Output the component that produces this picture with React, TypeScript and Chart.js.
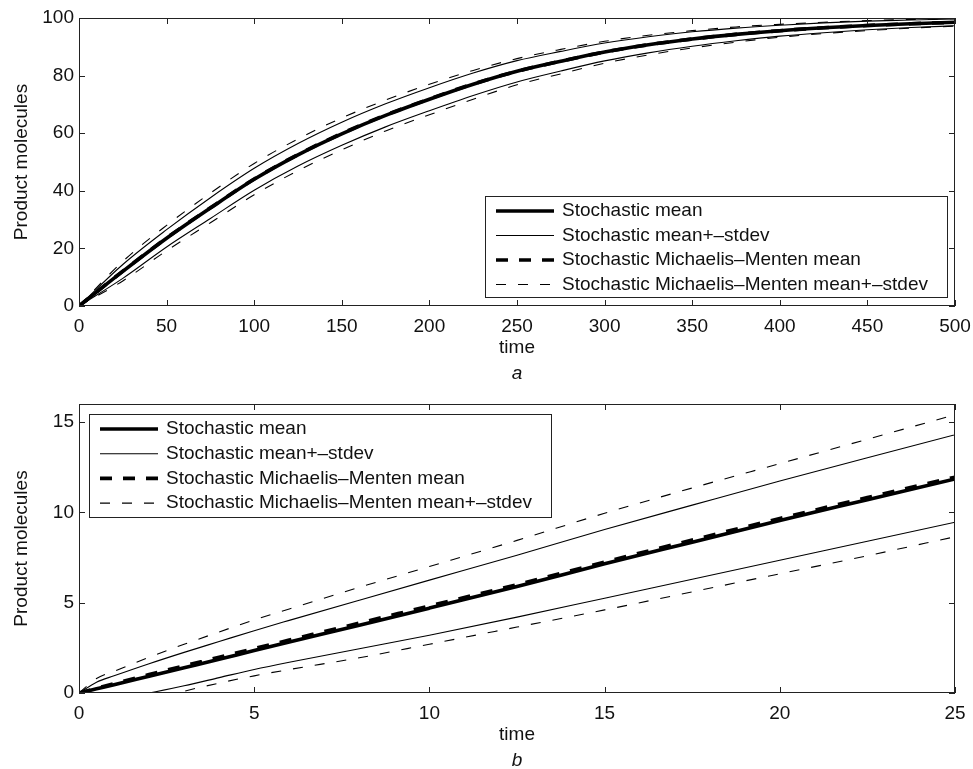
import React, { useEffect, useRef } from 'react';
import { Chart, registerables } from 'chart.js';

Chart.register(...registerables);

const FONT = "'Liberation Sans', Arial, Helvetica, sans-serif";
const INK = '#111';

// ---------- panel a ----------
const timeA = [0, 25, 50, 75, 100, 125, 150, 175, 200, 225, 250, 275, 300, 325, 350, 375, 400, 425, 450, 475, 500];
const meanA = [0, 12, 23.5, 34, 44, 52.5, 59.8, 66.2, 71.8, 77, 81.5, 85, 88.2, 90.7, 92.7, 94.3, 95.6, 96.6, 97.4, 98, 98.5];
const upperA = [0, 14.4, 26.5, 37.6, 47.8, 56.4, 63.8, 70.2, 75.8, 80.9, 85.2, 88.4, 91.3, 93.5, 95.2, 96.5, 97.5, 98.3, 98.9, 99.3, 99.7];
const lowerA = [0, 9.6, 20.5, 30.4, 40.2, 48.6, 55.8, 62.2, 67.8, 73.1, 77.8, 81.6, 85.1, 87.9, 90.2, 92.1, 93.7, 94.9, 95.9, 96.7, 97.3];
const mmMeanA = [0, 12.1, 23.6, 34.1, 44.1, 52.6, 59.9, 66.3, 71.9, 77.1, 81.5, 85, 88.2, 90.7, 92.7, 94.3, 95.6, 96.6, 97.4, 98, 98.5];
const mmUpperA = [0, 15.5, 28, 39.2, 49.5, 58, 65.3, 71.5, 77, 81.8, 85.9, 89.1, 91.9, 94, 95.6, 96.9, 97.8, 98.5, 99.1, 99.5, 99.8];
const mmLowerA = [0, 8.7, 19.2, 28.9, 38.6, 47, 54.2, 60.8, 66.4, 71.8, 76.8, 80.6, 84.3, 87.2, 89.6, 91.6, 93.3, 94.6, 95.6, 96.5, 97.2];
const xTicksA = [0, 50, 100, 150, 200, 250, 300, 350, 400, 450, 500];
const yTicksA = [0, 20, 40, 60, 80, 100];

// ---------- panel b ----------
const timeB = [0, 0.5, 1, 2, 3, 4, 5, 6, 8, 10, 12.5, 15, 17.5, 20, 22.5, 25];
const meanB = [0, 0.23, 0.46, 0.93, 1.4, 1.87, 2.35, 2.82, 3.75, 4.7, 5.9, 7.15, 8.35, 9.55, 10.7, 11.85];
const upperB = [0, 0.6, 0.95, 1.62, 2.25, 2.85, 3.45, 4.02, 5.14, 6.25, 7.63, 9.05, 10.4, 11.74, 13.02, 14.3];
const lowerB = [0, -0.3, -0.3, 0, 0.4, 0.85, 1.3, 1.7, 2.45, 3.2, 4.2, 5.25, 6.3, 7.35, 8.4, 9.45];
const mmMeanB = [0, 0.26, 0.52, 1.02, 1.5, 1.98, 2.46, 2.93, 3.87, 4.82, 6.0, 7.25, 8.47, 9.66, 10.82, 11.95];
const mmUpperB = [0, 0.8, 1.2, 1.98, 2.7, 3.38, 4.05, 4.65, 5.85, 7.0, 8.45, 9.95, 11.35, 12.7, 14.05, 15.4];
const mmLowerB = [0, -0.5, -0.6, -0.4, 0.1, 0.55, 0.95, 1.3, 1.95, 2.7, 3.65, 4.6, 5.6, 6.6, 7.6, 8.65];
const xTicksB = [0, 5, 10, 15, 20, 25];
const yTicksB = [0, 5, 10, 15];

const legendLabels = [
  'Stochastic mean',
  'Stochastic mean+\u2013stdev',
  'Stochastic Michaelis\u2013Menten mean',
  'Stochastic Michaelis\u2013Menten mean+\u2013stdev',
];

function makeDatasets(t: number[], mean: number[], up: number[], lo: number[], mm: number[], mmUp: number[], mmLo: number[]) {
  const pts = (v: number[]) => t.map((x, i) => ({ x, y: v[i] }));
  const base = { pointRadius: 0, borderColor: '#000', fill: false, cubicInterpolationMode: 'monotone' as const };
  return [
    { ...base, label: legendLabels[0], data: pts(mean), borderWidth: 3.6 },
    { ...base, label: legendLabels[1], data: pts(up), borderWidth: 1.1 },
    { ...base, label: '', data: pts(lo), borderWidth: 1.1 },
    { ...base, label: legendLabels[2], data: pts(mm), borderWidth: 3.6, borderDash: [12, 11] },
    { ...base, label: legendLabels[3], data: pts(mmUp), borderWidth: 1.1, borderDash: [10, 12] },
    { ...base, label: '', data: pts(mmLo), borderWidth: 1.1, borderDash: [10, 12] },
  ];
}

const framePlugin = {
  id: 'frame',
  afterDraw(chart: any, _args: any, opts: any) {
    const { ctx, chartArea: a, scales } = chart;
    ctx.save();
    ctx.strokeStyle = '#222';
    ctx.lineWidth = 1;
    ctx.setLineDash([]);
    ctx.strokeRect(Math.round(a.left) + 0.5, Math.round(a.top) + 0.5, Math.round(a.width) - 1, Math.round(a.height) - 1);
    const tl = 6;
    ctx.beginPath();
    scales.x.ticks.forEach((t: any) => {
      const px = Math.round(scales.x.getPixelForValue(t.value)) + 0.5;
      ctx.moveTo(px, a.bottom); ctx.lineTo(px, a.bottom - tl);
      ctx.moveTo(px, a.top); ctx.lineTo(px, a.top + tl);
    });
    scales.y.ticks.forEach((t: any) => {
      const py = Math.round(scales.y.getPixelForValue(t.value)) + 0.5;
      ctx.moveTo(a.left, py); ctx.lineTo(a.left + tl, py);
      ctx.moveTo(a.right, py); ctx.lineTo(a.right - tl, py);
    });
    ctx.stroke();

    ctx.fillStyle = INK;
    ctx.textAlign = 'center';
    ctx.textBaseline = 'middle';
    const midX = (a.left + a.right) / 2;
    ctx.font = `19px ${FONT}`;
    ctx.fillText('time', midX, a.bottom + 42);
    ctx.font = `italic 19px ${FONT}`;
    ctx.fillText(opts.panel, midX, a.bottom + 68);
    ctx.font = `19px ${FONT}`;
    ctx.save();
    ctx.translate(22, (a.top + a.bottom) / 2);
    ctx.rotate(-Math.PI / 2);
    ctx.fillText('Product molecules', 0, 0);
    ctx.restore();

    const L = opts.legend;
    ctx.fillStyle = '#fff';
    ctx.fillRect(L.x, L.y, L.w, L.h);
    ctx.strokeStyle = '#222';
    ctx.lineWidth = 1;
    ctx.strokeRect(L.x + 0.5, L.y + 0.5, L.w, L.h);
    const idx = [0, 1, 3, 4];
    idx.forEach((di, i) => {
      const ds = chart.data.datasets[di];
      const ry = L.y + L.first + i * L.rowH;
      ctx.strokeStyle = '#000';
      ctx.lineWidth = ds.borderWidth;
      ctx.setLineDash(ds.borderDash || []);
      ctx.beginPath();
      ctx.moveTo(L.x + 11, ry);
      ctx.lineTo(L.x + 69, ry);
      ctx.stroke();
      ctx.setLineDash([]);
      ctx.fillStyle = INK;
      ctx.textAlign = 'left';
      ctx.textBaseline = 'middle';
      ctx.font = `19px ${FONT}`;
      ctx.fillText(ds.label, L.x + 77, ry);
    });
    ctx.restore();
  },
};

function makeConfig(p: any) {
  return {
    type: 'line',
    data: { datasets: makeDatasets(p.t, p.mean, p.up, p.lo, p.mm, p.mmUp, p.mmLo) },
    options: {
      animation: false,
      responsive: false,
      events: [],
      layout: { padding: { left: 0, top: p.top, right: 18, bottom: 0 } },
      plugins: {
        legend: { display: false },
        tooltip: { enabled: false },
        frame: { panel: p.panel, legend: p.legend },
      },
      scales: {
        x: {
          type: 'linear',
          min: p.xTicks[0],
          max: p.xTicks[p.xTicks.length - 1],
          grid: { display: false, drawTicks: false },
          border: { display: false },
          ticks: { color: INK, font: { family: FONT, size: 19 }, padding: 9, maxRotation: 0, autoSkip: false },
          afterBuildTicks: (s: any) => { s.ticks = p.xTicks.map((v: number) => ({ value: v })); },
          afterFit: (s: any) => {
            s.height = p.xh;
            s.paddingLeft = 0; s.paddingRight = 0; s.paddingTop = 0; s.paddingBottom = 0;
          },
        },
        y: {
          type: 'linear',
          min: p.yMin,
          max: p.yMax,
          grid: { display: false, drawTicks: false },
          border: { display: false },
          ticks: { color: INK, font: { family: FONT, size: 19 }, padding: 5, autoSkip: false },
          afterBuildTicks: (s: any) => { s.ticks = p.yTicks.map((v: number) => ({ value: v })); },
          afterFit: (s: any) => {
            s.width = 79;
            s.paddingLeft = 0; s.paddingRight = 0; s.paddingTop = 0; s.paddingBottom = 0;
          },
        },
      },
    },
    plugins: [framePlugin],
  };
}

function Panel(props: { cfg: any; w: number; h: number; top: number }) {
  const ref = useRef<HTMLCanvasElement>(null);
  useEffect(() => {
    if (!ref.current) return;
    const chart = new Chart(ref.current, props.cfg);
    return () => chart.destroy();
  }, []);
  return (
    <canvas
      ref={ref}
      width={props.w}
      height={props.h}
      style={{ position: 'absolute', left: 0, top: props.top, width: props.w, height: props.h }}
    />
  );
}

export default function App() {
  const cfgA = makeConfig({
    t: timeA, mean: meanA, up: upperA, lo: lowerA, mm: mmMeanA, mmUp: mmUpperA, mmLo: mmLowerA,
    xTicks: xTicksA, yTicks: yTicksA, yMin: 0, yMax: 100, top: 18, xh: 79, panel: 'a',
    legend: { x: 485, y: 196, w: 462, h: 101, first: 15, rowH: 24.5 },
  });
  const cfgB = makeConfig({
    t: timeB, mean: meanB, up: upperB, lo: lowerB, mm: mmMeanB, mmUp: mmUpperB, mmLo: mmLowerB,
    xTicks: xTicksB, yTicks: yTicksB, yMin: 0, yMax: 16, top: 19, xh: 76, panel: 'b',
    legend: { x: 89, y: 29, w: 462, h: 103, first: 15, rowH: 24.7 },
  });
  return (
    <div style={{ position: 'absolute', left: 0, top: 0, width: 973, height: 769, background: '#fff' }}>
      <Panel cfg={cfgA} w={973} h={385} top={0} />
      <Panel cfg={cfgB} w={973} h={384} top={385} />
    </div>
  );
}
